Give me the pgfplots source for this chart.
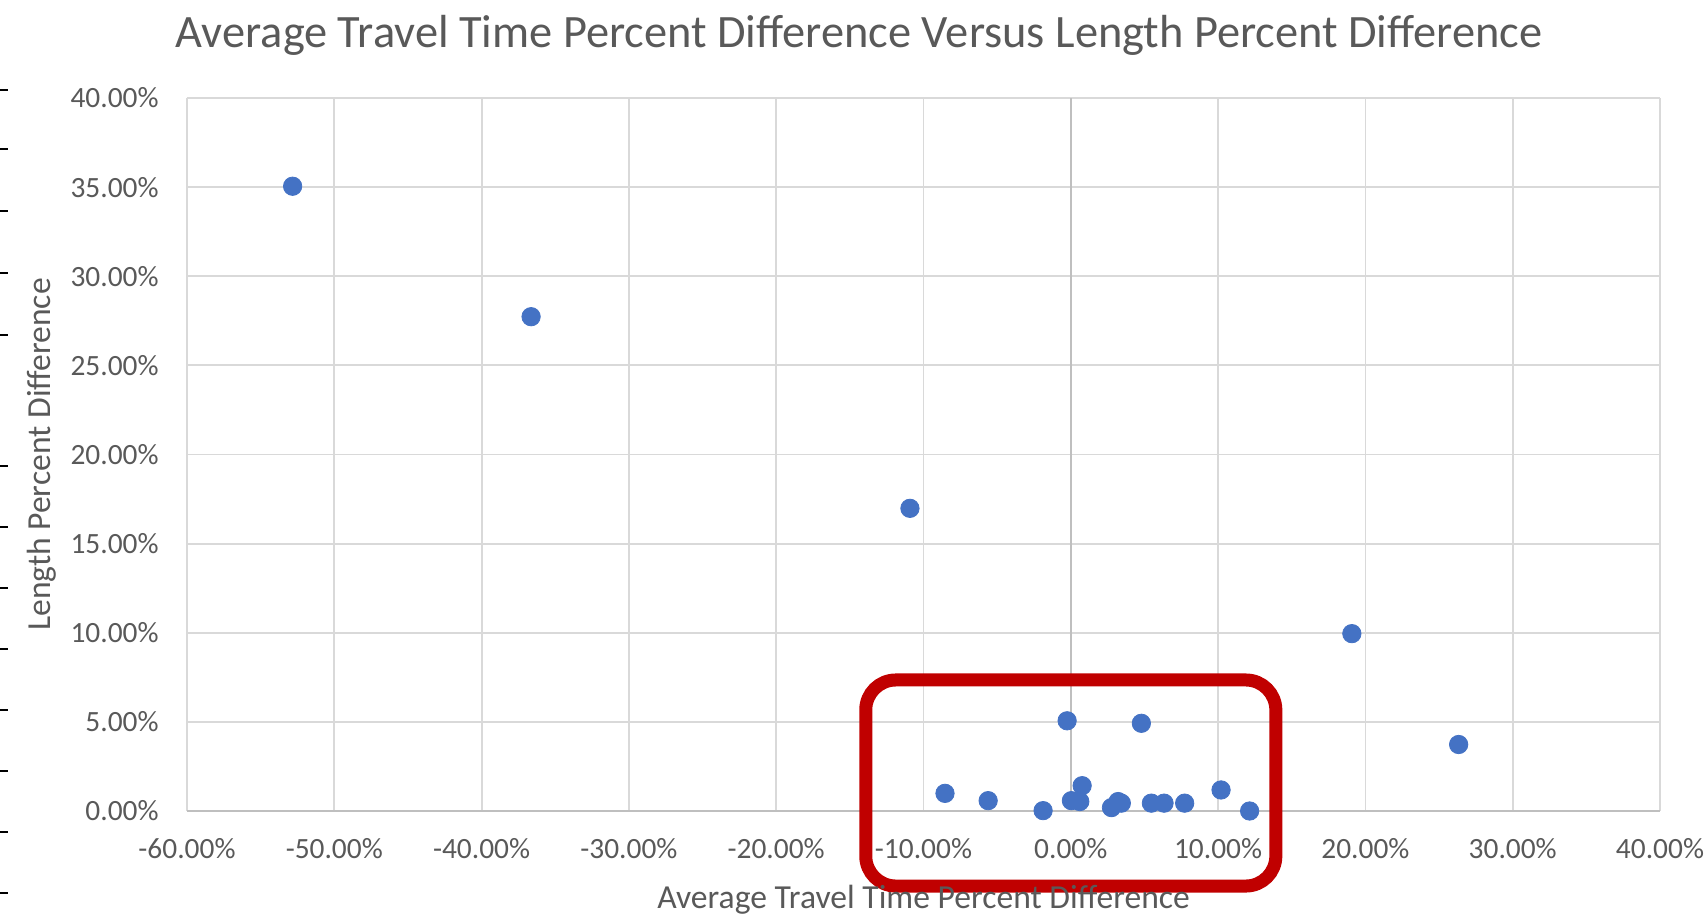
\documentclass[border=0pt]{standalone}
\usepackage{pgfplots}
\pgfplotsset{compat=1.18}
\usepackage{fontspec}
\setmainfont{Carlito}
\definecolor{txt}{HTML}{595959}
\definecolor{gridc}{HTML}{D9D9D9}
\definecolor{axc}{HTML}{BFBFBF}
\definecolor{dot}{HTML}{4472C4}
\definecolor{redbox}{HTML}{C00000}
\begin{document}
\begin{tikzpicture}
\path[use as bounding box] (-93.5pt,-54pt) rectangle (760pt,405.5pt);
\begin{axis}[
  at={(0,0)}, anchor=south west,
  scale only axis, width=736.5pt, height=356.5pt,
  xmin=-60, xmax=40, ymin=0, ymax=40,
  xtick={-60,-50,...,40}, ytick={0,5,...,40},
  axis line style={draw=none},
  major tick length=0pt,
  grid=major,
  grid style={draw=gridc, line width=0.9pt},
  clip=false,
  /pgf/number format/assume math mode=true,
  xticklabel={\pgfmathprintnumber[fixed,fixed zerofill,precision=2]{\tick}\%},
  yticklabel={\pgfmathprintnumber[fixed,fixed zerofill,precision=2]{\tick}\%},
  ticklabel style={font=\fontsize{14.7}{17}\selectfont, text=txt},
  xticklabel style={anchor=center, inner sep=0pt, yshift=-19pt},
  yticklabel style={anchor=east, inner sep=0pt, xshift=-14pt},
  xlabel={Average Travel Time Percent Difference},
  ylabel={Length Percent Difference},
  every axis x label/.style={at={(rel axis cs:0.5,-0.1238)}, anchor=center, font=\fontsize{16.8}{19}\selectfont, text=txt},
  every axis y label/.style={at={(rel axis cs:-0.0988,0.5)}, anchor=center, rotate=90, font=\fontsize{16.8}{19}\selectfont, text=txt},
]
\draw[axc, line width=0.9pt] (axis cs:0,0) -- (axis cs:0,40);
\draw[axc, line width=0.9pt] (axis cs:-60,0) -- (axis cs:40,0);
\addplot[only marks, mark=*, mark size=4.6pt, mark options={draw=dot, fill=dot}] coordinates {
(-52.83,35.05)
(-36.64,27.73)
(-10.92,16.98)
(19.08,9.95)
(26.33,3.73)
(-8.54,0.99)
(-5.61,0.58)
(-1.88,0.02)
(-0.25,5.06)
(0.04,0.58)
(0.61,0.53)
(0.77,1.42)
(4.79,4.92)
(2.76,0.19)
(3.21,0.53)
(3.43,0.44)
(5.47,0.44)
(6.33,0.44)
(7.73,0.44)
(10.20,1.18)
(12.14,0.00)
};
\draw[redbox, line width=6.5pt, rounded corners=15pt] (axis cs:-13.92,-4.21) rectangle (axis cs:13.92,7.35);
\end{axis}
\node[font=\fontsize{23.2}{27}\selectfont, text=txt, anchor=center] at (336pt,388pt) {Average Travel Time Percent Difference Versus Length Percent Difference};
\foreach \yy/\lw in {90/1.4,149/1,211/1,273/1,335/1,466/1.4,527/1,588/1,649/1,710/1,771/1,832/1,893/1}{
  \draw[black, line width=\lw pt] (-93.5pt,{(811-\yy)*0.5pt}) -- (-89.5pt,{(811-\yy)*0.5pt});
}
\end{tikzpicture}
\end{document}
